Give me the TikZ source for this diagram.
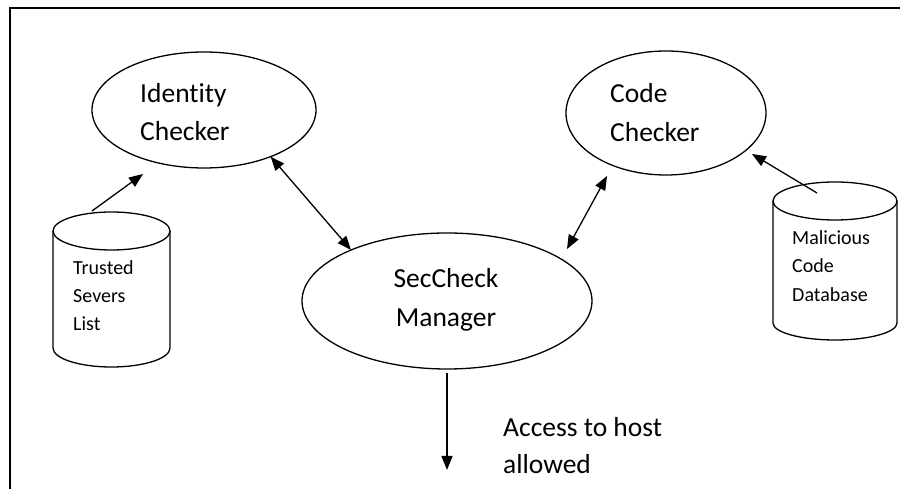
\documentclass[tikz,border=0pt]{standalone}
\usepackage{fontspec}
\setmainfont{Carlito}[Ligatures=NoCommon]
\usetikzlibrary{arrows.meta,shapes.geometric}
\begin{document}
\begin{tikzpicture}[x=1pt,y=1pt,
  proc/.style={draw,ellipse,line width=1.3pt,inner sep=0pt,outer sep=0pt},
  big/.style={font=\fontsize{27.5}{33}\selectfont,inner sep=0pt},
  small/.style={font=\fontsize{20}{24}\selectfont,inner sep=0pt},
  conn/.style={line width=1.3pt,-{Triangle[length=14pt,width=11pt]}},
  biconn/.style={line width=1.3pt,{Triangle[length=14pt,width=11pt]}-{Triangle[length=14pt,width=11pt]}},
  cyl/.style={line width=1.3pt}]
\useasboundingbox (0,0) rectangle (900,489);
% frame
\draw[line width=2pt] (900,481) -- (10,481) -- (10,-2);
% ellipses
\node[proc,minimum width=224pt,minimum height=116pt] (ic) at (204,379) {};
\node[proc,minimum width=200pt,minimum height=124pt] (cc) at (666,376) {};
\node[proc,minimum width=290pt,minimum height=136pt] (sm) at (447,188) {};
% ellipse texts
\node[big,anchor=base west] (ic1) at (140,386) {Identity};
\node[big,anchor=base west] (ic2) at (140,348) {Checker};
\node[big,anchor=base west] (cc1) at (610,386) {Code};
\node[big,anchor=base west] (cc2) at (610,347) {Checker};
\node[big,anchor=base] (sm1) at (446,201) {SecCheck};
\node[big,anchor=base] (sm2) at (446,162) {Manager};
% cylinders
\draw[cyl] (111.5,258) ellipse [x radius=58.5,y radius=19];
\draw[cyl] (53,258) -- (53,141) arc[start angle=180,end angle=360,x radius=58.5,y radius=19] -- (170,258);
\draw[cyl] (835,288) ellipse [x radius=62,y radius=19];
\draw[cyl] (773,288) -- (773,166) arc[start angle=180,end angle=360,x radius=62,y radius=17] -- (897,288);
\node[small,anchor=base west] (ts1) at (73,214) {Trusted};
\node[small,anchor=base west] (ts2) at (73,186) {Severs};
\node[small,anchor=base west] (ts3) at (73,158) {List};
\node[small,anchor=base west] (md1) at (792,244) {Malicious};
\node[small,anchor=base west] (md2) at (792,216) {Code};
\node[small,anchor=base west] (md3) at (792,187) {Database};
% connector end points
\coordinate (tstop) at (92,278);
\coordinate (icin) at (143,315);
\coordinate (mdtop) at (817,296);
\coordinate (ccin) at (752,335);
\coordinate (ccb) at (607,313);
\coordinate (smr) at (567,240);
\coordinate (out) at (447,19);
% connectors
\draw[conn] (tstop) -- (icin);
\draw[biconn] (ic.-35.5) -- (sm.152.1);
\draw[biconn] (ccb) -- (smr);
\draw[conn] (mdtop) -- (ccin);
\draw[conn] ([yshift=-4pt]sm.south) -- (out);
% output label
\node[big,anchor=base west] (acc1) at (503,52) {Access to host};
\node[big,anchor=base west] (acc2) at (503,15) {allowed};
\end{tikzpicture}
\end{document}
